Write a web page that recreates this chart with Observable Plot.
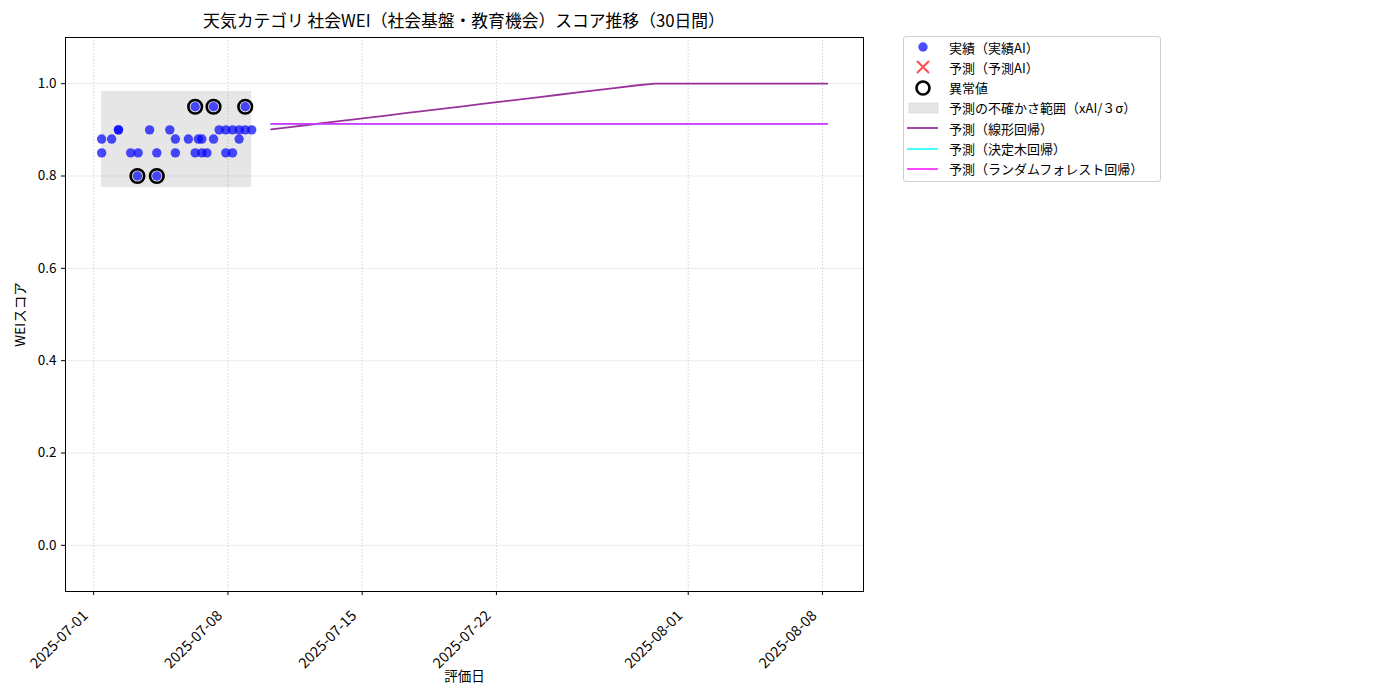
<!DOCTYPE html>
<html>
<head>
<meta charset="utf-8">
<script src="https://cdn.jsdelivr.net/npm/d3@7"></script>
<script src="https://cdn.jsdelivr.net/npm/@observablehq/plot@0.6"></script>
<style>
  html, body { margin: 0; padding: 0; background: #fff; }
  body { font-family: "Noto Sans CJK JP", "Noto Sans", sans-serif; }
  #wrap { position: relative; width: 1400px; height: 700px; }
  #title { position: absolute; left: 64px; width: 800px; top: 8px; text-align: center; font-size: 16.8px; color: #000; }
  #legend { position: absolute; left: 903px; top: 36px; width: 256px; height: 144px; border: 1px solid #d0d0d0; border-radius: 3px; background: #fff; }
  .row { position: absolute; left: 0; height: 20px; display: flex; align-items: center; font-size: 13px; color: #000; }
  .row svg { width: 40px; height: 20px; flex: none; margin-right: 5px; }
</style>
</head>
<body>
<div id="wrap">
  <div id="title">天気カテゴリ 社会WEI（社会基盤・教育機会）スコア推移（30日間）</div>
  <div id="chart"></div>
  <div id="legend"></div>
</div>
<script>
// ---- data ----
const actualTimes = [
  "2025-07-01T10:00Z","2025-07-01T10:00Z","2025-07-01T22:30Z","2025-07-02T07:00Z","2025-07-02T07:00Z",
  "2025-07-02T22:20Z","2025-07-03T06:45Z","2025-07-03T07:40Z","2025-07-03T22:00Z","2025-07-04T07:00Z",
  "2025-07-04T07:00Z","2025-07-04T23:15Z","2025-07-05T06:15Z","2025-07-05T06:15Z","2025-07-05T22:30Z",
  "2025-07-06T07:00Z","2025-07-06T07:00Z","2025-07-06T11:00Z","2025-07-06T15:20Z","2025-07-06T15:20Z",
  "2025-07-06T21:40Z","2025-07-07T06:00Z","2025-07-07T06:00Z","2025-07-07T13:00Z","2025-07-07T21:20Z",
  "2025-07-07T21:20Z","2025-07-08T05:45Z","2025-07-08T05:45Z","2025-07-08T14:00Z","2025-07-08T14:00Z",
  "2025-07-08T21:40Z","2025-07-08T21:40Z","2025-07-09T05:45Z"
];
const actualScores = [
  0.88, 0.85, 0.88, 0.90, 0.90,
  0.85, 0.80, 0.85, 0.90, 0.80,
  0.85, 0.90, 0.88, 0.85, 0.88,
  0.95, 0.85, 0.88, 0.88, 0.85,
  0.85, 0.95, 0.88, 0.90, 0.90,
  0.85, 0.90, 0.85, 0.90, 0.88,
  0.90, 0.95, 0.90
];
const anomalyTimes = ["2025-07-03T06:45Z","2025-07-04T07:00Z","2025-07-06T07:00Z","2025-07-07T06:00Z","2025-07-08T21:40Z"];
const anomalyScores = [0.80, 0.80, 0.95, 0.95, 0.95];

const forecastDates = [
  "2025-07-10T06:00Z","2025-07-11T06:00Z","2025-07-12T06:00Z","2025-07-13T06:00Z","2025-07-14T06:00Z",
  "2025-07-15T06:00Z","2025-07-16T06:00Z","2025-07-17T06:00Z","2025-07-18T06:00Z","2025-07-19T06:00Z",
  "2025-07-20T06:00Z","2025-07-21T06:00Z","2025-07-22T06:00Z","2025-07-23T06:00Z","2025-07-24T06:00Z",
  "2025-07-25T06:00Z","2025-07-26T06:00Z","2025-07-27T06:00Z","2025-07-28T06:00Z","2025-07-29T06:00Z",
  "2025-07-30T06:00Z","2025-07-31T06:00Z","2025-08-01T06:00Z","2025-08-02T06:00Z","2025-08-03T06:00Z",
  "2025-08-04T06:00Z","2025-08-05T06:00Z","2025-08-06T06:00Z","2025-08-07T06:00Z","2025-08-08T06:00Z"
];
const linearPred = [
  0.901, 0.906, 0.911, 0.916, 0.921, 0.926, 0.931, 0.936, 0.941, 0.946,
  0.951, 0.956, 0.961, 0.966, 0.971, 0.976, 0.981, 0.986, 0.991, 0.996,
  1.000, 1.000, 1.000, 1.000, 1.000, 1.000, 1.000, 1.000, 1.000, 1.000
];
const treePred = [
  0.913, 0.913, 0.913, 0.913, 0.913, 0.913, 0.913, 0.913, 0.913, 0.913,
  0.913, 0.913, 0.913, 0.913, 0.913, 0.913, 0.913, 0.913, 0.913, 0.913,
  0.913, 0.913, 0.913, 0.913, 0.913, 0.913, 0.913, 0.913, 0.913, 0.913
];
const forestPred = [
  0.913, 0.913, 0.913, 0.913, 0.913, 0.913, 0.913, 0.913, 0.913, 0.913,
  0.913, 0.913, 0.913, 0.913, 0.913, 0.913, 0.913, 0.913, 0.913, 0.913,
  0.913, 0.913, 0.913, 0.913, 0.913, 0.913, 0.913, 0.913, 0.913, 0.913
];
const bandStart = "2025-07-01T10:00Z";
const bandEnd = "2025-07-09T05:45Z";
const bandLow = 0.775;
const bandHigh = 0.983;

const xTicks = ["2025-07-01","2025-07-08","2025-07-15","2025-07-22","2025-08-01","2025-08-08"];
const yTicks = [0.0, 0.2, 0.4, 0.6, 0.8, 1.0];
const xDomain = ["2025-06-29T12:45Z", "2025-08-10T03:20Z"];
const yDomain = [-0.1, 1.1];

// ---- tables ----
const P = (s) => new Date(s);
const actual = actualTimes.map((t, i) => ({date: P(t), v: actualScores[i]}));
const anomalies = anomalyTimes.map((t, i) => ({date: P(t), v: anomalyScores[i]}));
const linear = forecastDates.map((t, i) => ({date: P(t), v: linearPred[i]}));
const tree = forecastDates.map((t, i) => ({date: P(t), v: treePred[i]}));
const forest = forecastDates.map((t, i) => ({date: P(t), v: forestPred[i]}));
const band = [{x1: P(bandStart), x2: P(bandEnd), y1: bandLow, y2: bandHigh}];

const font = '"Noto Sans CJK JP", "Noto Sans", sans-serif';
const gridStyle = {stroke: "#b0b0b0", strokeOpacity: 0.8, strokeDasharray: "1.2,2", strokeWidth: 0.8};

const chart = Plot.plot({
  width: 1400,
  height: 700,
  marginLeft: 65,
  marginRight: 537,
  marginTop: 37,
  marginBottom: 109,
  style: {fontFamily: font, fontSize: "13px", color: "#000", background: "transparent"},
  x: {type: "utc", domain: xDomain.map(P)},
  y: {domain: yDomain},
  marks: [
    Plot.gridX(xTicks.map(P), gridStyle),
    Plot.gridY(yTicks, gridStyle),
    Plot.rect(band, {x1: "x1", x2: "x2", y1: "y1", y2: "y2", fill: "#808080", fillOpacity: 0.2}),
    Plot.dot(actual, {x: "date", y: "v", r: 4.7, fill: "blue", fillOpacity: 0.7, stroke: "none"}),
    Plot.dot(anomalies, {x: "date", y: "v", r: 6.8, fill: "none", stroke: "black", strokeWidth: 2.6}),
    Plot.line(linear, {x: "date", y: "v", stroke: "purple", strokeOpacity: 0.8, strokeWidth: 1.8}),
    Plot.line(tree, {x: "date", y: "v", stroke: "cyan", strokeOpacity: 0.8, strokeWidth: 1.8}),
    Plot.line(forest, {x: "date", y: "v", stroke: "magenta", strokeOpacity: 0.8, strokeWidth: 1.8}),
    // tick marks only
    Plot.axisX({ticks: xTicks.map(P), tickFormat: () => "", tickSize: 4, label: null}),
    // rotated tick labels
    Plot.axisX({ticks: xTicks.map(P), tickFormat: d3.utcFormat("%Y-%m-%d"), tickRotate: -45, tickSize: 0,
      fontSize: 14.5, dx: -8, dy: 10, label: null}),
    Plot.axisX({ticks: [], tickSize: 0, label: "評価日", labelAnchor: "center", labelArrow: "none", labelOffset: 89, fontSize: 13.5}),
    Plot.axisY({ticks: yTicks, tickFormat: d3.format(".1f"), tickSize: 4, fontSize: 13.5,
      label: "WEIスコア", labelAnchor: "center", labelArrow: "none", labelOffset: 50}),
    Plot.frame({stroke: "black", strokeWidth: 1})
  ]
});
document.getElementById("chart").appendChild(chart);

// ---- legend ----
const legendItems = [
  {label: "実績（実績AI）", kind: "dot"},
  {label: "予測（予測AI）", kind: "x"},
  {label: "異常値", kind: "ring"},
  {label: "予測の不確かさ範囲（xAI/３σ）", kind: "rect"},
  {label: "予測（線形回帰）", kind: "line", color: "purple"},
  {label: "予測（決定木回帰）", kind: "line", color: "cyan"},
  {label: "予測（ランダムフォレスト回帰）", kind: "line", color: "magenta"}
];
const legend = document.getElementById("legend");
legendItems.forEach((it, i) => {
  const row = document.createElement("div");
  row.className = "row";
  row.style.top = (0 + i * 20.3) + "px";
  let g = "";
  if (it.kind === "dot") g = '<circle cx="19" cy="10" r="4.7" fill="blue" fill-opacity="0.7"/>';
  else if (it.kind === "x") g = '<path d="M13,4 L25,16 M25,4 L13,16" stroke="red" stroke-opacity="0.7" stroke-width="2"/>';
  else if (it.kind === "ring") g = '<circle cx="19" cy="10" r="6.5" fill="none" stroke="black" stroke-width="2.6"/>';
  else if (it.kind === "rect") g = '<rect x="5" y="5" width="29" height="10" fill="#808080" fill-opacity="0.2" stroke="#ccc" stroke-width="0.5"/>';
  else g = `<line x1="3" y1="10" x2="34" y2="10" stroke="${it.color}" stroke-opacity="0.8" stroke-width="1.8"/>`;
  row.innerHTML = `<svg viewBox="0 0 40 20">${g}</svg><span>${it.label}</span>`;
  legend.appendChild(row);
});
</script>
</body>
</html>
